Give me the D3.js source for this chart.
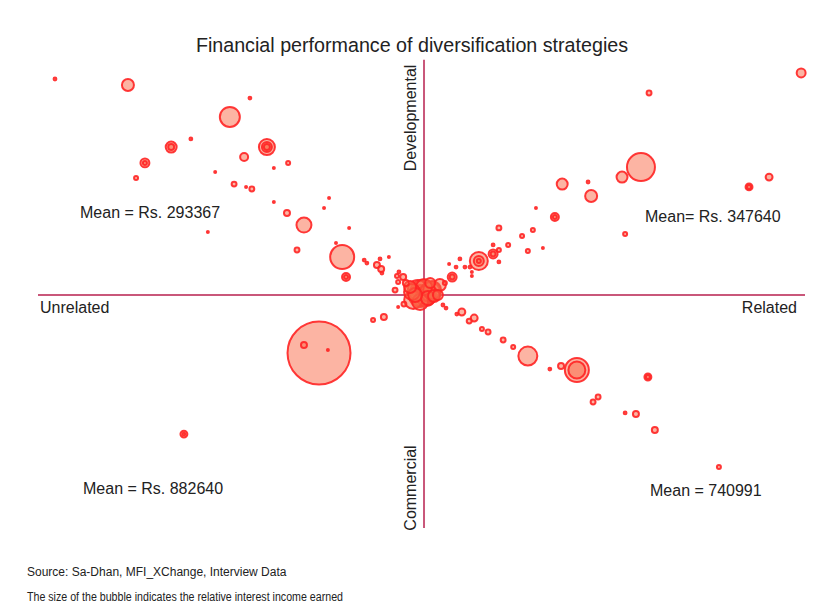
<!DOCTYPE html>
<html>
<head>
<meta charset="utf-8">
<script src="https://cdn.jsdelivr.net/npm/d3@7"></script>
<style>
  body { margin: 0; background: #fff; }
  text { font-family: "Liberation Sans", Arial, sans-serif; fill: #222; }
</style>
</head>
<body>
<svg id="chart"></svg>
<script>
// bubbles: x = relatedness (-100 unrelated .. +100 related)
//          y = orientation (+100 developmental .. -100 commercial)
//          income = relative interest income earned (bubble area)
var relatedness = [
  -95.6, -76.7, -60.4, -65.5, -65.5, -72.3, -72.3, -74.6, -54.1, -45.1,
  -50.3, -40.7, -40.7, -40.7, -46.6, -35.2, -38.9, -49.2, -46.1, -44.6,
  -24.6, -38.9, -25.9, -35.5, -31.1, -56.0, -19.4, -22.8, -32.9, -21.2,
  -15.5, -14.8, -11.4, -12.2, -11.1, -9.1, -20.2, -20.2, -6.5, -5.4,
  -7.0, -10.9, -6.7, -7.5,
  -0.3, -2.8, 2.1, 4.1, -3.6, 3.6, -1.0, 1.0, -4.7, 1.6,
  -1.6, 0.5, -2.3, 2.6, 0.0, -1.0, 1.6, -3.1,
  -5.2, -6.7, -10.4, -13.2, -27.2, -31.1, -24.9, -62.2, -62.2,
  5.4, 7.3, 7.3, 6.5, 8.3, 9.3, 10.6, 11.9, 12.4, 12.4,
  14.2, 14.2, 14.2, 19.4, 17.9, 17.9, 17.9, 19.4, 21.8, 19.4,
  25.4, 28.2, 26.9, 30.8, 29.0, 33.9, 33.9, 35.8, 42.5, 43.3,
  51.3, 56.2, 52.1, 58.3, 97.7, 84.2, 84.2, 89.4,
  4.9, 5.7, 8.5, 9.8, 11.7, 13.0, 15.0, 16.6, 20.5, 23.1,
  26.9, 32.6, 35.5, 39.6, 39.6, 45.1, 43.8, 52.1, 54.9, 58.0,
  58.0, 59.8, 76.4
];
var orientation = [
  92.7, 90.1, 67.0, 63.5, 63.5, 56.7, 56.7, 50.2, 52.8, 84.5,
  76.4, 63.5, 63.5, 63.5, 59.2, 56.7, 54.5, 47.6, 46.4, 45.5,
  41.6, 39.9, 37.3, 35.2, 30.0, 27.0, 28.8, 22.3, 19.3, 16.3,
  15.0, 13.7, 15.5, 12.9, 11.2, 16.3, 7.7, 7.7, 9.9, 7.7,
  8.2, 9.4, 5.6, 2.1,
  0.9, -2.1, 2.1, 4.3, 3.4, 0.0, -3.0, -1.3, 5.2, 5.2,
  2.1, -0.4, 0.0, -0.4, 3.4, -0.4, 1.3, 1.3,
  -3.9, -5.2, -9.4, -10.7, -24.9, -21.5, -23.6, -59.7, -59.7,
  5.2, 7.7, 7.7, 13.3, 12.0, 15.5, 12.0, 12.0, 9.9, 8.2,
  14.6, 14.6, 14.6, 14.2, 17.6, 17.6, 21.5, 19.3, 21.5, 28.8,
  25.3, 27.9, 18.9, 20.2, 37.3, 33.5, 33.5, 47.6, 48.5, 42.5,
  50.6, 54.9, 26.2, 86.7, 95.3, 46.4, 46.4, 50.6,
  -4.3, -5.6, -8.2, -7.3, -11.2, -9.9, -14.6, -15.9, -19.3, -22.3,
  -26.2, -31.8, -30.5, -32.2, -32.2, -43.8, -45.9, -50.6, -51.1, -35.2,
  -35.2, -57.9, -73.8
];
var income = [
  2, 36, 2, 30, 9, 20, 4, 4, 1, 2,
  100, 64, 25, 9, 16, 4, 1, 6, 1, 6,
  1, 1, 1, 9, 56, 1, 1, 1, 6, 144,
  2, 2, 2, 9, 9, 1, 16, 4, 2, 9,
  4, 2, 4, 6,
  169, 81, 81, 36, 36, 25, 64, 49, 9, 25,
  100, 100, 49, 36, 64, 121, 100, 64,
  6, 1, 9, 4, 992, 9, 1, 12, 2,
  4, 20, 6, 1, 2, 2, 2, 2, 1, 1,
  81, 25, 4, 2, 20, 6, 2, 4, 4, 6,
  4, 4, 4, 1, 1, 16, 4, 30, 2, 36,
  30, 196, 4, 6, 20, 12, 4, 12,
  2, 2, 2, 12, 6, 12, 4, 6, 6, 4,
  90, 2, 9, 144, 72, 6, 6, 2, 9, 12,
  4, 9, 4
];

var quadrantMeans = [
  "Mean = Rs. 293367",
  "Mean= Rs. 347640",
  "Mean = Rs. 882640",
  "Mean = 740991"
];
var axisNames = ["Unrelated", "Related", "Developmental", "Commercial"];

var width = 820,
    height = 606;

var svg = d3.select('#chart')
            .attr('width', width)
            .attr('height', height);

var x = d3.scaleLinear()
  .domain([-100, 98.7])
  .range([38, 805]);

var y = d3.scaleLinear()
  .domain([-100, 100])
  .range([528, 62]);

var r = d3.scaleSqrt()
  .domain([0, 1000])
  .range([0, Math.sqrt(1000)]);

var bubbles = relatedness.map(function(d, i) {
  return { x: d, y: orientation[i], income: income[i] };
});
// big ones first so the small ones stay visible
bubbles.sort(function(a, b) { return b.income - a.income; });

// title
svg.append('text')
  .attr('x', 412)
  .attr('y', 52)
  .attr('text-anchor', 'middle')
  .style('font-size', '19.7px')
  .text('Financial performance of diversification strategies');

// quadrant axes
svg.append('line')
  .attr('x1', x(-100)).attr('x2', x(98.7))
  .attr('y1', y(0)).attr('y2', y(0))
  .attr('stroke', '#c9577a')
  .attr('stroke-width', 2);
svg.append('line')
  .attr('x1', x(0)).attr('x2', x(0))
  .attr('y1', y(101)).attr('y2', y(-100))
  .attr('stroke', '#c9577a')
  .attr('stroke-width', 2);

svg.append('g')
  .selectAll('circle')
  .data(bubbles)
  .enter()
  .append('circle')
    .attr('cx', d => x(d.x))
    .attr('cy', d => y(d.y))
    .attr('r', d => r(d.income))
    .attr('fill', '#fa6a48')
    .attr('fill-opacity', 0.5)
    .attr('stroke', '#ff2424')
    .attr('stroke-opacity', 0.9)
    .attr('stroke-width', 2);

// axis names
svg.append('text')
  .attr('x', 40).attr('y', 313)
  .style('font-size', '16px')
  .text(axisNames[0]);
svg.append('text')
  .attr('x', 797).attr('y', 313)
  .attr('text-anchor', 'end')
  .style('font-size', '16px')
  .text(axisNames[1]);
svg.append('text')
  .attr('transform', 'translate(416,118) rotate(-90)')
  .attr('text-anchor', 'middle')
  .style('font-size', '16px')
  .text(axisNames[2]);
svg.append('text')
  .attr('transform', 'translate(416,488) rotate(-90)')
  .attr('text-anchor', 'middle')
  .style('font-size', '16px')
  .text(axisNames[3]);

// quadrant means
var meanPos = [[80, 218], [645, 222], [83, 494], [650, 496]];
svg.selectAll('.mean')
  .data(quadrantMeans)
  .enter()
  .append('text')
    .attr('class', 'mean')
    .attr('x', (d, i) => meanPos[i][0])
    .attr('y', (d, i) => meanPos[i][1])
    .style('font-size', '16px')
    .text(d => d);

// footnotes
svg.append('text')
  .attr('x', 27).attr('y', 576)
  .style('font-size', '12px')
  .text('Source: Sa-Dhan, MFI_XChange, Interview Data');
svg.append('text')
  .attr('x', 27).attr('y', 601)
  .style('font-size', '12px')
  .attr('textLength', 316)
  .attr('lengthAdjust', 'spacingAndGlyphs')
  .text('The size of the bubble indicates the relative interest income earned');
</script>
</body>
</html>
